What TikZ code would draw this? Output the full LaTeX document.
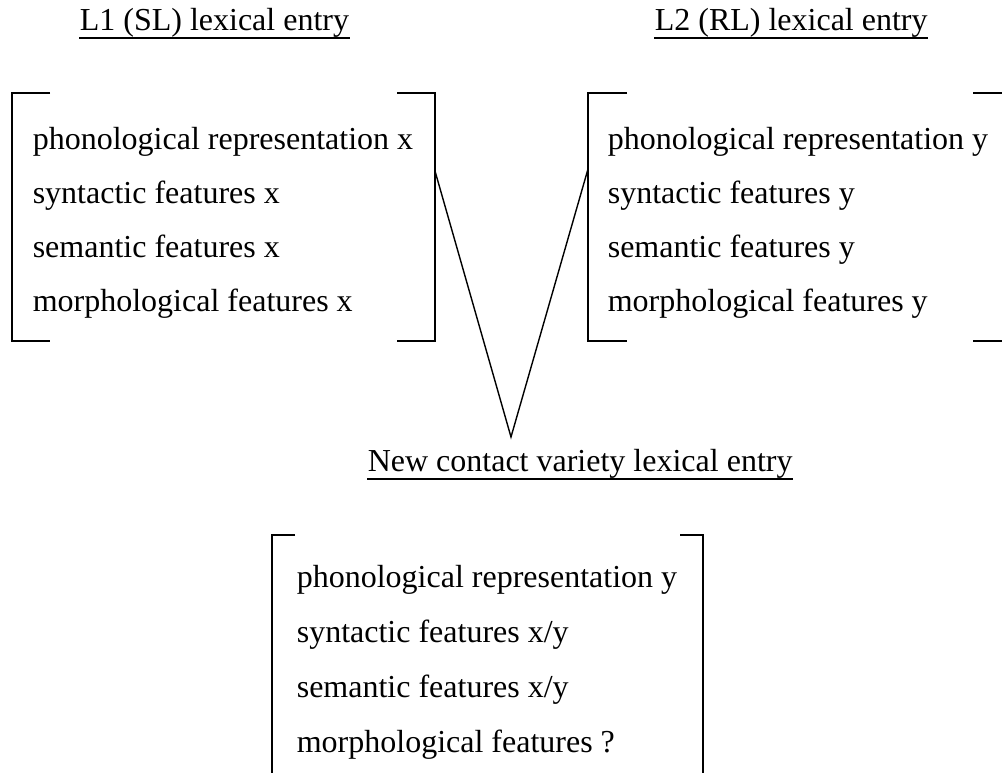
\documentclass[tikz,border=0pt]{standalone}
\usepackage{fontspec}
\setmainfont{Liberation Serif}
\begin{document}
\begin{tikzpicture}[x=1pt,y=-1pt,line width=1.6pt,
  txt/.style={anchor=base west,inner sep=0pt,font=\fontsize{32}{37}\selectfont},
  brk/.style={line width=1.6pt},
  link/.style={line width=1.4pt},
  uline/.style={line width=1.4pt}]
\useasboundingbox (0,0) rectangle (1002,772);
% titles
\node[txt] (t1) at (79,30) {L1 (SL) lexical entry\ };
\node[txt] (t2) at (654,30) {L2 (RL) lexical entry};
\node[txt] (t3) at (367,471) {New contact variety lexical entry};
\foreach \t in {t1,t2,t3}{
  \draw[uline] ([yshift=-8pt]\t.base west) -- ([yshift=-8pt]\t.base east);
}
% left entry
\node[txt] (a1) at (32,149) {phonological representation x};
\node[txt] (a2) at (32,203) {syntactic features x};
\node[txt] (a3) at (32,257) {semantic features x};
\node[txt] (a4) at (32,311) {morphological features x};
% right entry
\node[txt] (b1) at (607,149) {phonological representation y};
\node[txt] (b2) at (607,203) {syntactic features y};
\node[txt] (b3) at (607,257) {semantic features y};
\node[txt] (b4) at (607,311) {morphological features y};
% bottom entry
\node[txt] (c1) at (296,587) {phonological representation y};
\node[txt] (c2) at (296,642) {syntactic features x/y};
\node[txt] (c3) at (296,697) {semantic features x/y};
\node[txt] (c4) at (296,752) {morphological features ?};
% brackets
\draw[brk] (50,93) -- (12,93) -- (12,341) -- (50,341);
\draw[brk] (397,93) -- (435,93) -- (435,341) -- (397,341);
\draw[brk] (627,93) -- (588,93) -- (588,341) -- (627,341);
\draw[brk] (973,93) -- (1006,93) -- (1006,341) -- (973,341);
\draw[brk] (295,535) -- (272,535) -- (272,776);
\draw[brk] (680,535) -- (703,535) -- (703,776);
% connectors
\coordinate (la) at (435,171);
\coordinate (ra) at (588,169);
\coordinate (apex) at (511,437);
\draw[link] (la) -- (apex) -- (ra);
\end{tikzpicture}
\end{document}
